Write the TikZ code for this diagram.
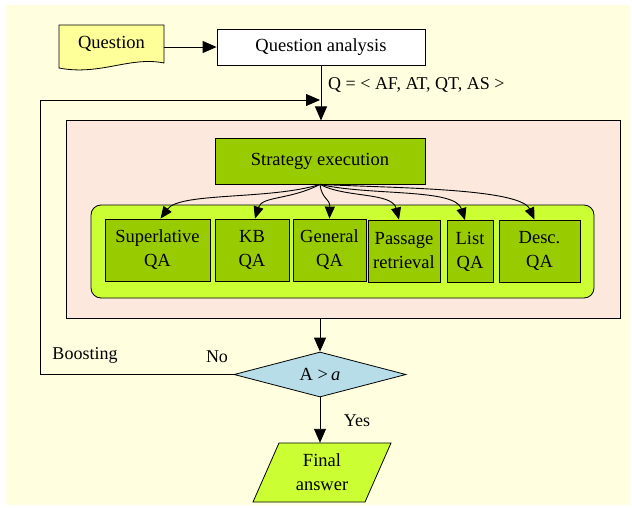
\documentclass[tikz,border=0pt]{standalone}
\usepackage{fontspec}
\setmainfont{Liberation Serif}
\usetikzlibrary{arrows.meta,shapes.geometric}
\definecolor{bgyellow}{HTML}{FFFFE0}
\definecolor{docyellow}{HTML}{FFFF99}
\definecolor{pinkbg}{HTML}{FCE8DC}
\definecolor{darkgreen}{HTML}{99CC00}
\definecolor{limegreen}{HTML}{CCFF33}
\definecolor{lightblue}{HTML}{B7DDE8}
\tikzset{
  txt/.style={font=\fontsize{18.5}{24}\selectfont, align=center, inner sep=0pt},
  plainbox/.style={txt, draw=black, line width=0.8pt, fill=white},
  greenbox/.style={txt, draw=black, line width=0.8pt, fill=darkgreen},
  arr/.style={line width=0.9pt, -{Triangle[length=14pt,width=12pt]}},
  curvarr/.style={line width=0.9pt, -{Triangle[length=12pt,width=10pt]}},
  lab/.style={font=\fontsize{18}{22}\selectfont, inner sep=0pt}
}
\begin{document}
\begin{tikzpicture}[x=1pt,y=-1pt]
\useasboundingbox (0,0) rectangle (632,508);
\fill[bgyellow] (5,5) rectangle (630,505);
% Question document
\filldraw[fill=docyellow, draw=black, line width=0.8pt]
  (59,25) -- (164,25) -- (164,63) .. controls (130,56) and (100,76) .. (59,68) -- cycle;
\node[txt, minimum width=105pt, minimum height=38pt] (q) at (111.5,44) {Question};
% Question analysis
\node[plainbox, minimum width=208pt, minimum height=36pt] (qa) at (321,47) {Question analysis};
\draw[arr] (q.east |- qa.west) -- (qa.west);
% Pink container
\node[draw=black, line width=1pt, fill=pinkbg, minimum width=554pt, minimum height=197pt, inner sep=0pt] (pink) at (343,219.5) {};
\draw[arr] (qa.south) -- (qa.south |- pink.north) coordinate (pt);
\node[lab, anchor=west] (qlab) at (328,85) {Q = < AF, AT, QT, AS >};
% Strategy execution
\node[greenbox, minimum width=210pt, minimum height=46pt] (se) at (320,161) {Strategy execution};
% Lime rounded container
\node[draw=black, line width=0.8pt, fill=limegreen, rounded corners=10pt, minimum width=503pt, minimum height=93pt, inner sep=0pt] (lime) at (342.5,251.5) {};
% Strategy boxes
\node[greenbox, minimum width=105pt, minimum height=62pt] (sup) at (157.5,250) {Superlative\\QA};
\node[greenbox, minimum width=74pt, minimum height=62pt] (kb) at (252,250) {KB\\QA};
\node[greenbox, minimum width=73pt, minimum height=62pt] (gen) at (329.5,250) {General\\QA};
\node[greenbox, minimum width=72pt, minimum height=62pt] (pas) at (404,251) {Passage\\retrieval};
\node[greenbox, minimum width=46pt, minimum height=62pt] (lst) at (470,251.5) {List\\QA};
\node[greenbox, minimum width=81pt, minimum height=62pt] (dsc) at (539.5,251) {Desc.\\QA};
\draw[curvarr] (se.south) .. controls (270,200) and (180,192) .. ([xshift=3pt]sup.north);
\draw[curvarr] (se.south) .. controls (290,200) and (262,196) .. ([xshift=3pt]kb.north);
\draw[curvarr] (se.south) .. controls (322,200) and (330,198) .. (gen.north);
\draw[curvarr] (se.south) .. controls (345,198) and (392,192) .. ([xshift=-5pt]pas.north);
\draw[curvarr] (se.south) .. controls (370,196) and (455,188) .. ([xshift=-5pt]lst.north);
\draw[curvarr] (se.south) .. controls (390,188) and (520,188) .. ([xshift=-5pt]dsc.north);
% Decision
\node[txt, diamond, draw=black, line width=0.8pt, fill=lightblue, aspect=3.8, minimum width=172pt, minimum height=45pt] (dia) at (320,374.5) {A >\,\textit{a}};
\draw[arr] (pink.south -| dia.north) -- (dia.north);
% Final answer
\filldraw[fill=limegreen, draw=black, line width=0.8pt] (253,502) -- (279,443) -- (391,443) -- (365,502) -- cycle;
\node[txt, minimum height=59pt, minimum width=90pt] (fa) at (322,472.5) {Final\\answer};
\draw[arr] (dia.south) -- (dia.south |- fa.north);
\node[lab] (yes) at (357,421) {Yes};
% Feedback loop
\coordinate (fb) at (320,100);
\draw[arr] (dia.west) -- (40,374.5) -- (40,100) -- (fb);
\node[lab] (no) at (217,357) {No};
\node[lab] (boost) at (85,355) {Boosting};
\end{tikzpicture}
\end{document}
